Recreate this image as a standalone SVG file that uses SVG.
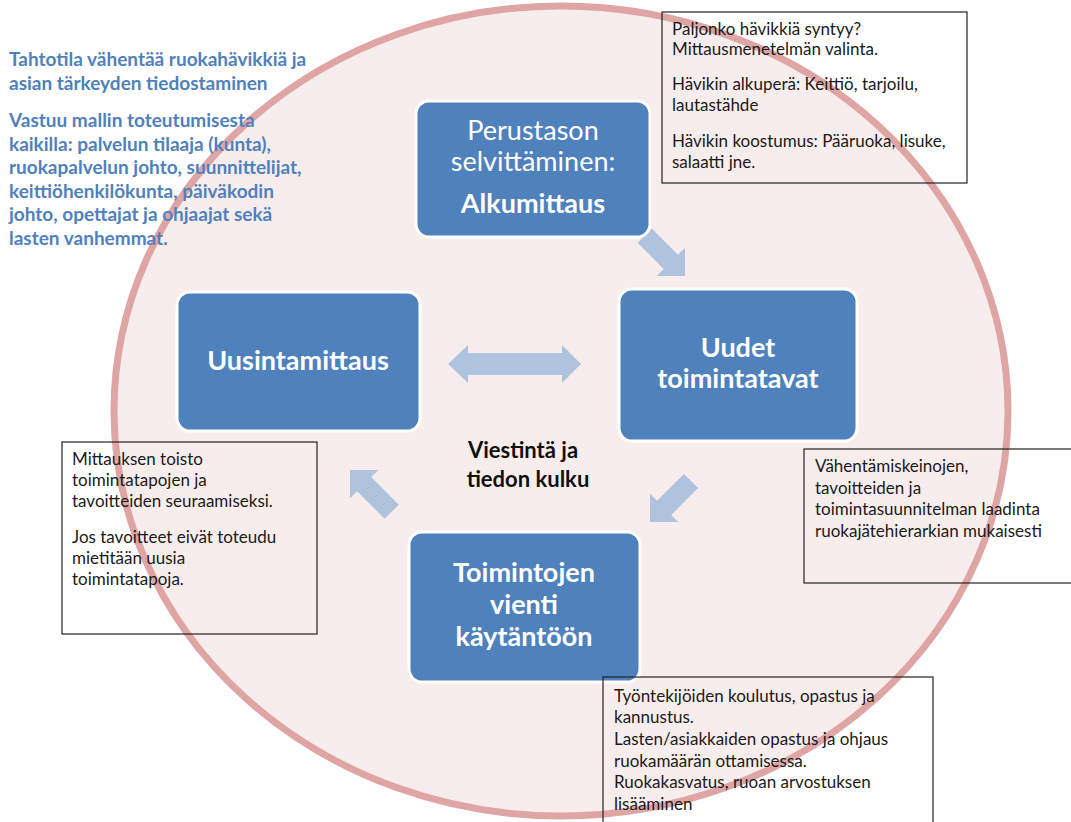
<svg xmlns="http://www.w3.org/2000/svg" width="1071" height="822" viewBox="0 0 1071 822">
<style>
.node rect{fill:#4f81bd;stroke:#ffffff;stroke-width:3}
.nt{font-family:Lato,"Liberation Sans",sans-serif;font-size:27px;fill:#ffffff;text-anchor:middle}
.b{font-weight:bold}
.note rect{fill:none;stroke:#222222;stroke-width:1.2}
.note text{font-family:Lato,"Liberation Sans",sans-serif;font-size:17px;fill:#1a1a1a}
.blue{font-family:Lato,"Liberation Sans",sans-serif;font-size:19px;font-weight:bold;fill:#4f81bd}
.arr{fill:#b0c3de}
</style>
<rect width="1071" height="822" fill="#ffffff"/>
<ellipse id="circle" cx="561" cy="411" rx="447" ry="405" fill="#f8eded" stroke="#dfa5a5" stroke-width="7"/>

<g id="intro">
<text class="blue" x="9" y="66">Tahtotila vähentää ruokahävikkiä ja</text>
<text class="blue" x="9" y="90">asian tärkeyden tiedostaminen</text>
<text class="blue" x="9" y="127">Vastuu mallin toteutumisesta</text>
<text class="blue" x="9" y="150.5">kaikilla: palvelun tilaaja (kunta),</text>
<text class="blue" x="9" y="174">ruokapalvelun johto, suunnittelijat,</text>
<text class="blue" x="9" y="197.5">keittiöhenkilökunta, päiväkodin</text>
<text class="blue" x="9" y="221">johto, opettajat ja ohjaajat sekä</text>
<text class="blue" x="9" y="244.5">lasten vanhemmat.</text>
</g>

<g id="connectors">
<polygon class="arr" points="-57,-10 -20,-10 -20,-20 0,0 -20,20 -20,10 -57,10" transform="translate(685,276) rotate(45)"/>
<polygon class="arr" points="-58,-10 -20,-10 -20,-20 0,0 -20,20 -20,10 -58,10" transform="translate(650,522) rotate(135)"/>
<polygon class="arr" points="-59,-10 -20,-10 -20,-20 0,0 -20,20 -20,10 -59,10" transform="translate(350,470) rotate(-135)"/>
<polygon class="arr" points="448,364 468,345 468,353 562,353 562,345 581,364 562,383 562,375 468,375 468,383"/>
</g>

<g id="node-perustason" class="node">
<rect x="416" y="101" width="234" height="136" rx="13"/>
<text class="nt" x="533" y="140">Perustason</text>
<text class="nt" x="533" y="171">selvittäminen:</text>
<text class="nt b" x="533" y="213">Alkumittaus</text>
</g>

<g id="node-uudet" class="node">
<rect x="619" y="289" width="238" height="152" rx="13"/>
<text class="nt b" x="738" y="357">Uudet</text>
<text class="nt b" x="738" y="388">toimintatavat</text>
</g>

<g id="node-uusintamittaus" class="node">
<rect x="177" y="292" width="243" height="139" rx="13"/>
<text class="nt b" x="298" y="370">Uusintamittaus</text>
</g>

<g id="node-toimintojen" class="node">
<rect x="409" y="532" width="231" height="150" rx="13"/>
<text class="nt b" x="524" y="582">Toimintojen</text>
<text class="nt b" x="524" y="614">vienti</text>
<text class="nt b" x="524" y="646">käytäntöön</text>
</g>

<g id="center-label">
<text x="523" y="458" font-family="Lato,'Liberation Sans',sans-serif" font-size="22" font-weight="bold" fill="#111111" text-anchor="middle">Viestintä ja</text>
<text x="528" y="487" font-family="Lato,'Liberation Sans',sans-serif" font-size="22" font-weight="bold" fill="#111111" text-anchor="middle">tiedon kulku</text>
</g>

<g id="note-top" class="note">
<rect x="662" y="12" width="305" height="171"/>
<text x="672" y="35">Paljonko hävikkiä syntyy?</text>
<text x="672" y="55">Mittausmenetelmän valinta.</text>
<text x="672" y="90">Hävikin alkuperä: Keittiö, tarjoilu,</text>
<text x="672" y="111">lautastähde</text>
<text x="672" y="147">Hävikin koostumus: Pääruoka, lisuke,</text>
<text x="672" y="168">salaatti jne.</text>
</g>

<g id="note-left" class="note">
<rect x="62" y="442" width="255" height="192"/>
<text x="72" y="465">Mittauksen toisto</text>
<text x="72" y="486">toimintatapojen ja</text>
<text x="72" y="507">tavoitteiden seuraamiseksi.</text>
<text x="72" y="543">Jos tavoitteet eivät toteudu</text>
<text x="72" y="564">mietitään uusia</text>
<text x="72" y="585">toimintatapoja.</text>
</g>

<g id="note-right" class="note">
<rect x="804" y="449" width="272" height="134"/>
<text x="815" y="472">Vähentämiskeinojen,</text>
<text x="815" y="494">tavoitteiden ja</text>
<text x="815" y="515">toimintasuunnitelman laadinta</text>
<text x="815" y="537">ruokajätehierarkian mukaisesti</text>
</g>

<g id="note-bottom" class="note">
<rect x="603" y="677" width="330" height="150"/>
<text x="614" y="702">Työntekijöiden koulutus, opastus ja</text>
<text x="614" y="723">kannustus.</text>
<text x="614" y="745">Lasten/asiakkaiden opastus ja ohjaus</text>
<text x="614" y="767">ruokamäärän ottamisessa.</text>
<text x="614" y="788">Ruokakasvatus, ruoan arvostuksen</text>
<text x="614" y="810">lisääminen</text>
</g>
</svg>
